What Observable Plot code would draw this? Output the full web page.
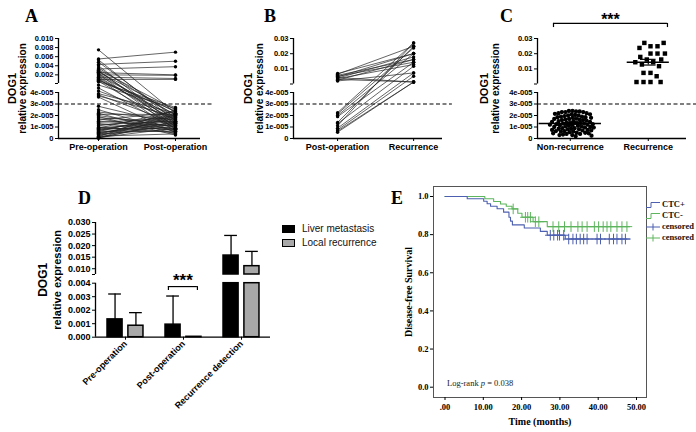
<!DOCTYPE html>
<html><head><meta charset="utf-8">
<script src="https://cdn.jsdelivr.net/npm/d3@7"></script>
<script src="https://cdn.jsdelivr.net/npm/@observablehq/plot@0.6"></script>
<style>
body{margin:0;background:#fff;}
#fig{position:relative;width:696px;height:432px;overflow:hidden;background:#fff;}
.lab{position:absolute;font-family:"Liberation Serif","Times New Roman",serif;font-weight:bold;font-size:18px;line-height:1;}
.leg{position:absolute;font-family:"Liberation Sans",Arial,sans-serif;font-size:10px;line-height:14px;color:#111;}
.leg .sw{display:inline-block;width:11px;height:6px;border:1.5px solid #000;vertical-align:middle;margin-right:7px;}
.legE{position:absolute;font-family:"Liberation Serif","Times New Roman",serif;font-weight:bold;font-size:8.5px;line-height:10px;color:#111;}
.legE svg{vertical-align:middle;margin-right:2px;}
.lr{position:absolute;font-family:"Liberation Serif","Times New Roman",serif;font-size:8.5px;line-height:10px;color:#222;}
</style></head><body><div id="fig"></div>
<script>
// ---------------- DATA ----------------
// Panel A: paired DOG1 expression, pre- vs post-operation
const catsA = ["Pre-operation", "Post-operation"];
const preA = [0.0075,0.0055,0.0053,0.0048,0.0043,0.0040,0.0035,0.0033,0.0031,0.0030,0.0028,0.0026,0.0025,0.0023,0.0022,0.0020,0.0018,0.0016,0.0015,0.0013,0.0012,0.0010,0.0009,0.0008,0.0006,0.0005,
  0.00009,0.00007,0.00005,0.000039,0.000038,0.000037,0.000036,
  0.000028,0.000025,0.000023,0.000022,0.000021,0.000020,0.000019,0.000018,0.000017,0.000016,0.000015,0.000014,0.000013,0.000012,0.000011,0.000010,0.0000095,0.000009,0.0000085,0.000008,0.0000075,0.000007,0.0000065,0.000006,0.0000055,0.000005,0.0000045,0.000004,0.0000035,0.000003,0.0000025,0.000002,0.0000015,0.000001,0.0000008,0.0000005,0.0000003];
const postA = [0.000022,0.0070,0.000015,0.000018,0.0050,0.000012,0.000020,0.0038,0.000025,0.000010,0.000014,0.000023,0.0020,0.000017,0.000008,0.0019,0.000021,0.000013,0.0012,0.000016,0.000006,0.0010,0.000019,0.000024,0.000011,0.000027,
  0.000026,0.000009,0.000017,0.000022,0.000013,0.000019,0.000005,
  0.000012,0.000006,0.000016,0.000004,0.000021,0.000010,0.000003,0.000014,0.000008,0.000023,0.000011,0.000018,0.000007,0.000015,0.000020,0.000005,0.000013,0.000024,0.000009,0.000017,0.000012,0.000019,0.000006,0.000022,0.000010,0.000014,0.000016,0.000008,0.000021,0.000011,0.000018,0.000004,0.000025,0.000013,0.000009,0.000020,0.000015];
const ticksLow = [0, 1e-5, 2e-5, 3e-5, 4e-5];
const ticksHighA = [0.002, 0.004, 0.006, 0.008, 0.010];
const cutoff = 3e-5;

// Panel B: post-operation vs recurrence
const catsB = ["Post-operation", "Recurrence"];
const postB = [0.0070,0.0065,0.0058,0.0052,0.0047,0.0043,0.0040,0.0036,0.0031,0.0026,0.0021,
  0.0000225,0.0000215,0.0000200,0.0000190,0.0000140,0.0000130,0.0000110,0.0000090,0.0000075,0.0000065,0.0000055];
const recB = [0.0201,0.0249,0.0162,0.0144,0.0201,0.0014,0.0179,0.0129,0.0014,0.0162,0.0074,
  0.0271,0.0238,0.0201,0.0144,0.0249,0.0118,0.0271,0.0074,0.0052,0.0014,0.0014];
const ticksHighBC = [0.01, 0.02, 0.03];

// Panel C: non-recurrence vs recurrence
const catsC = ["Non-recurrence", "Recurrence"];
const nonRecurrence = [2.4,2.4,2.35,2.35,2.3,2.3,2.3,2.2,2.2,2.15,2.1,2.1,2.05,2.0,2.0,1.95,1.9,1.9,1.85,1.85,
  1.8,1.8,1.75,1.7,1.7,1.65,1.65,1.6,1.6,1.55,1.5,1.5,1.45,1.45,1.4,1.4,1.35,1.35,1.3,1.3,1.25,1.25,1.2,1.2,
  1.15,1.15,1.1,1.1,1.05,1.05,1.0,1.0,0.95,0.95,0.9,0.9,0.85,0.85,0.8,0.8,0.75,0.75,0.7,0.7,0.65,0.65,0.6,0.6,
  0.55,0.5,0.5,0.45,0.45,0.4,0.4,0.35,0.3,0.3,0.25,0.2].map(v => v * 1e-5);
const recurrence = recB;

// Panel D: grouped bars
const catsD = ["Pre-operation", "Post-operation", "Recurrence detection"];
const seriesD = ["Liver metastasis", "Local recurrence"];
const liverMean = [0.00132, 0.00093, 0.0157];
const liverErr  = [0.00188, 0.00212, 0.0087];
const localMean = [0.00085, 0.00003, 0.0111];
const localErr  = [0.00097, 0, 0.0064];
const ticksLowD = [0, 0.001, 0.002, 0.003, 0.004];
const ticksHighD = [0.010, 0.015, 0.020, 0.025, 0.030];

// Panel E: Kaplan-Meier
const tPos = [0, 5.8, 10.1, 11.0, 11.9, 13.6, 15.3, 16.7, 17.1, 17.6, 20.7, 24.9, 26.7, 31.4, 48.2];
const sPos = [1, 0.988, 0.975, 0.962, 0.949, 0.936, 0.918, 0.891, 0.871, 0.851, 0.835, 0.817, 0.797, 0.777, 0.777];
const tNeg = [0, 10.4, 12.7, 14.5, 16.0, 17.5, 19.0, 20.1, 23.0, 26.7, 48.2];
const sNeg = [1, 0.988, 0.974, 0.961, 0.949, 0.935, 0.912, 0.891, 0.868, 0.842, 0.842];
const censPos = [27.5, 28.4, 29.4, 29.9, 31.0, 32.3, 33.4, 34.3, 35.3, 36.2, 37.1, 39.7, 40.6, 42.9, 44.0, 44.9, 46.2, 47.1];
const censNeg = [17.8, 21.0, 21.6, 22.3, 23.6, 24.5, 28.2, 29.7, 31.2, 32.9, 34.7, 35.8, 37.1, 39.0, 40.1, 41.3, 42.3, 43.3, 44.9, 46.2, 47.5];
const ticksE_y = [0, 0.2, 0.4, 0.6, 0.8, 1.0];
const ticksE_x = [0, 10, 20, 30, 40, 50];

// ---------------- RENDER ----------------
const W = 696, H = 432;
const SANS = "'Liberation Sans', Arial, sans-serif";
const SERIF = "'Liberation Serif', 'Times New Roman', serif";
const BLUE = "#4c5fb0", GREEN = "#5db55d";
const fig = document.getElementById("fig");

function panel({left, right, top, bottom, x, y, marks, font = SANS, fs = 8}) {
  const svg = Plot.plot({
    width: W, height: H,
    marginLeft: left, marginRight: W - right, marginTop: top, marginBottom: H - bottom,
    x, y, marks,
    style: `position:absolute;left:0;top:0;background:transparent;overflow:visible;font-family:${font};font-weight:bold;font-size:${fs}px;color:#000;text-anchor:middle;`
  });
  fig.appendChild(svg);
  return svg;
}
function html(cls, left, top, inner) {
  const d = document.createElement("div");
  d.className = cls; d.style.left = left + "px"; d.style.top = top + "px"; d.innerHTML = inner;
  fig.appendChild(d);
}
const fmtE = v => v === 0 ? "0" : `${Math.round(v * 1e5)}e-005`;
const f3 = d3.format(".3f"), f2 = d3.format(".2f");
const ax = {tickSize: 3, tickPadding: 2, label: null};
const TXT = {text: d => d, textAnchor: "middle", lineAnchor: "middle"};

function brokenYAxis(xl, xr, segs, lowTicks, lowFmt, highTicks, highFmt, gapTick, fsT) {
  return [
    Plot.ruleX(segs, {x: () => xl, y1: "y1", y2: "y2", stroke: "#000", strokeWidth: 1.3}),
    Plot.ruleY([0], {x1: () => xl, x2: () => xr, stroke: "#000", strokeWidth: 1.3}),
    Plot.axisY(lowTicks, {...ax, tickFormat: lowFmt, fontSize: fsT}),
    Plot.axisY(highTicks, {...ax, tickFormat: highFmt, fontSize: fsT}),
    Plot.axisY([gapTick], {...ax, tickFormat: () => ""})
  ];
}
function yTitles(dx1, dx2, fs1, fs2) {
  return [
    Plot.text(["DOG1"], {...TXT, frameAnchor: "left", dx: dx1, rotate: -90, fontSize: fs1}),
    Plot.text(["relative expression"], {...TXT, frameAnchor: "left", dx: dx2, rotate: -90, fontSize: fs2})
  ];
}

// ---- Panel A ----
const pairsA = preA.map((p, i) => ({pre: p, post: postA[i]}));
const yA = {type: "linear", domain: [0, 4e-5, 1e-4, 0.010], range: [138, 92, 83, 38]};
const xlA = -0.52, xrA = 1.325, dashA = 1.49;
panel({left: 58, right: 200, top: 38, bottom: 138, x: {domain: [xlA, xrA]}, y: yA, marks: [
  ...brokenYAxis(xlA, xrA, [{y1: 0, y2: 4e-5}, {y1: 1e-4, y2: 0.010}], ticksLow, fmtE, ticksHighA, f3, 1e-4, 7.5),
  Plot.axisX([0, 1], {...ax, tickFormat: i => catsA[i], fontSize: 9}),
  Plot.ruleY([cutoff], {x1: () => xlA, x2: () => dashA, stroke: "#000", strokeWidth: 1.2, strokeDasharray: "4,2.5"}),
  Plot.link(pairsA, {x1: () => 0, x2: () => 1, y1: "pre", y2: "post", stroke: "#222", strokeWidth: 0.7}),
  Plot.dot(pairsA, {x: () => 0, y: "pre", r: 1.7, fill: "#000"}),
  Plot.dot(pairsA, {x: () => 1, y: "post", r: 1.7, fill: "#000"}),
  ...yTitles(-46, -36, 11, 10)
]});

// ---- Panel B ----
const pairsB = postB.map((p, i) => ({post: p, rec: recB[i]}));
const yBC = {type: "linear", domain: [0, 4e-5, 1e-4, 0.03], range: [138, 92, 83.5, 38]};
const xlB = -0.58, xrB = 1.38, dashB = 1.51;
panel({left: 293, right: 442, top: 38, bottom: 138, x: {domain: [xlB, xrB]}, y: yBC, marks: [
  ...brokenYAxis(xlB, xrB, [{y1: 0, y2: 4e-5}, {y1: 1e-4, y2: 0.03}], ticksLow, fmtE, ticksHighBC, f2, 1e-4, 7.5),
  Plot.axisX([0, 1], {...ax, tickFormat: i => catsB[i], fontSize: 9}),
  Plot.ruleY([cutoff], {x1: () => xlB, x2: () => dashB, stroke: "#000", strokeWidth: 1.2, strokeDasharray: "4,2.5"}),
  Plot.link(pairsB, {x1: () => 0, x2: () => 1, y1: "post", y2: "rec", stroke: "#222", strokeWidth: 0.7}),
  Plot.dot(pairsB, {x: () => 0, y: "post", r: 1.7, fill: "#000"}),
  Plot.dot(pairsB, {x: () => 1, y: "rec", r: 1.7, fill: "#000"}),
  ...yTitles(-45, -34, 11, 10)
]});

// ---- Panel C ----
// scatter columns (dodged by the library), each in its own frame centred on its category
panel({left: 542, right: 602, top: 38, bottom: 138, x: {axis: null}, y: {...yBC, axis: null}, marks: [
  Plot.dot(nonRecurrence, Plot.dodgeX({anchor: "middle", padding: 0.6}, {y: d => d, r: 1.5, fill: "#000", stroke: "#000", strokeWidth: 1.3}))
]});
panel({left: 630, right: 670, top: 38, bottom: 138, x: {axis: null}, y: {...yBC, axis: null}, marks: [
  Plot.dot(recurrence, Plot.dodgeX({anchor: "middle", padding: 2}, {y: d => d, r: 2.5, symbol: "square", fill: "#000"}))
]});
const statsC = [nonRecurrence, recurrence].map((vals, i) => {
  const m = d3.mean(vals), se = d3.deviation(vals) / Math.sqrt(vals.length);
  return {i, mean: m, lo: m - se, hi: m + se, hw: i === 0 ? 0.4 : 0.27};
});
const xlC = -0.42, xrC = 1.49, dashC = 1.62;
const sigC = {x1: -0.215, x2: 1.246, y: 0.0399, yDrop: 0.0372, yText: 0.0425};
panel({left: 537, right: 686, top: 38, bottom: 138, x: {domain: [xlC, xrC]}, y: yBC, marks: [
  ...brokenYAxis(xlC, xrC, [{y1: 0, y2: 4e-5}, {y1: 1e-4, y2: 0.03}], ticksLow, fmtE, ticksHighBC, f2, 1e-4, 7.5),
  Plot.axisX([0, 1], {...ax, tickFormat: i => catsC[i], fontSize: 9}),
  Plot.ruleY([cutoff], {x1: () => xlC, x2: () => dashC, stroke: "#000", strokeWidth: 1.2, strokeDasharray: "4,2.5"}),
  Plot.ruleY(statsC, {y: "mean", x1: d => d.i - d.hw, x2: d => d.i + d.hw, stroke: "#000", strokeWidth: 1.4}),
  Plot.ruleX(statsC, {x: "i", y1: "lo", y2: "hi", stroke: "#000", strokeWidth: 1.2}),
  Plot.ruleY(statsC, {y: "lo", x1: d => d.i - 0.1, x2: d => d.i + 0.1, stroke: "#000", strokeWidth: 1.2}),
  Plot.ruleY(statsC, {y: "hi", x1: d => d.i - 0.1, x2: d => d.i + 0.1, stroke: "#000", strokeWidth: 1.2}),
  Plot.ruleY([sigC], {y: "y", x1: "x1", x2: "x2", stroke: "#000", strokeWidth: 1.2}),
  Plot.ruleX([sigC.x1, sigC.x2], {x: d => d, y1: () => sigC.yDrop, y2: () => sigC.y, stroke: "#000", strokeWidth: 1.2}),
  Plot.text(["***"], {...TXT, x: () => (sigC.x1 + sigC.x2) / 2, y: () => sigC.yText, fontSize: 16}),
  ...yTitles(-53, -42, 11, 10)
]});

// ---- Panel D ----
const yD = {type: "linear", domain: [0, 0.004, 0.0075, 0.030], range: [336.7, 282.7, 274, 222]};
const xlD = -0.517, xrD = 2.5;
const brkLo = 0.004, brkHi = 0.0075;
const offD = [[-0.31, -0.05], [0.05, 0.31]];
const fillD = ["#000", "#a8a8a8"];
const rowsD = [];
catsD.forEach((c, i) => {
  [[liverMean, liverErr], [localMean, localErr]].forEach(([M, E], s) => {
    rowsD.push({i, s, mean: M[i], err: E[i], x1: i + offD[s][0], x2: i + offD[s][1], xc: i + (offD[s][0] + offD[s][1]) / 2});
  });
});
const piecesD = [];
rowsD.forEach(r => {
  piecesD.push({...r, y1: 0, y2: Math.min(r.mean, brkLo)});
  if (r.mean > brkHi) piecesD.push({...r, y1: brkHi, y2: r.mean});
});
const errD = rowsD.filter(r => r.err > 0);
const sigD = {x1: 0.74, x2: 1.24, y: 0.00375, yDrop: 0.00346, yText: 0.0051};
panel({left: 95, right: 270, top: 222, bottom: 336.7, x: {domain: [xlD, xrD]}, y: yD, marks: [
  Plot.rect(piecesD, {x1: "x1", x2: "x2", y1: "y1", y2: "y2", fill: d => fillD[d.s], stroke: "#000", strokeWidth: 1.5}),
  Plot.ruleX(errD, {x: "xc", y1: "mean", y2: d => d.mean + d.err, stroke: "#000", strokeWidth: 1.3}),
  Plot.ruleY(errD, {y: d => d.mean + d.err, x1: d => d.xc - 0.11, x2: d => d.xc + 0.11, stroke: "#000", strokeWidth: 1.3}),
  ...brokenYAxis(xlD, xrD, [{y1: 0, y2: brkLo}, {y1: brkHi, y2: 0.030}], ticksLowD, f3, ticksHighD, f3, brkHi, 9),
  Plot.axisX([0, 1, 2], {...ax, tickFormat: i => catsD[i], tickRotate: -45, fontSize: 9}),
  Plot.ruleY([sigD], {y: "y", x1: "x1", x2: "x2", stroke: "#000", strokeWidth: 1.2}),
  Plot.ruleX([sigD.x1, sigD.x2], {x: d => d, y1: () => sigD.yDrop, y2: () => sigD.y, stroke: "#000", strokeWidth: 1.2}),
  Plot.text(["***"], {...TXT, x: () => (sigD.x1 + sigD.x2) / 2, y: () => sigD.yText, fontSize: 17}),
  ...yTitles(-52, -38, 12, 11)
]});

// ---- Panel E ----
const kmPos = tPos.map((t, i) => ({t, s: sPos[i]}));
const kmNeg = tNeg.map((t, i) => ({t, s: sNeg[i]}));
const survAt = (ts, ss, t) => ss[Math.max(0, d3.bisectRight(ts, t) - 1)];
const cPos = censPos.map(t => ({t, s: survAt(tPos, sPos, t)}));
const cNeg = censNeg.map(t => ({t, s: survAt(tNeg, sNeg, t)}));
const fE = v => v === 0 ? ".00" : v.toFixed(2);
panel({left: 433, right: 646, top: 186, bottom: 397, font: SERIF, fs: 8.5,
  x: {domain: [0, 50], range: [444.5, 636]}, y: {domain: [0, 1], range: [386.7, 196]}, marks: [
  Plot.frame({stroke: "#555", strokeWidth: 1}),
  Plot.axisY(ticksE_y, {...ax, tickFormat: d3.format(".1f"), fontSize: 8.5}),
  Plot.axisX(ticksE_x, {...ax, tickPadding: 3, tickFormat: fE, fontSize: 8.5}),
  Plot.line(kmNeg, {x: "t", y: "s", curve: "step-after", stroke: GREEN, strokeWidth: 1.1}),
  Plot.line(kmPos, {x: "t", y: "s", curve: "step-after", stroke: BLUE, strokeWidth: 1.1}),
  Plot.dot(cNeg, {x: "t", y: "s", symbol: "plus", r: 3.5, stroke: GREEN, strokeWidth: 1}),
  Plot.dot(cPos, {x: "t", y: "s", symbol: "plus", r: 3.5, stroke: BLUE, strokeWidth: 1}),
  Plot.text(["Disease-free Survival"], {...TXT, frameAnchor: "left", dx: -25, rotate: -90, fontSize: 10}),
  Plot.text(["Time (months)"], {...TXT, frameAnchor: "bottom", dy: 24.5, fontSize: 10})
]});

// ---- HTML annotations: panel letters, legends ----
html("lab", 25, 6.8, "A");
html("lab", 264, 6.8, "B");
html("lab", 500, 6.8, "C");
html("lab", 78, 188.8, "D");
html("lab", 391, 188.8, "E");
html("leg", 282, 222, `<div><span class="sw" style="background:${fillD[0]}"></span>${seriesD[0]}</div><div><span class="sw" style="background:${fillD[1]}"></span>${seriesD[1]}</div>`);
const stepIcon = c => `<svg width="14" height="10"><path d="M0,7.5H5V2.5H14" fill="none" stroke="${c}" stroke-width="1"/></svg>`;
const plusIcon = c => `<svg width="14" height="10"><path d="M0,5H14M7,1.5V8.5" fill="none" stroke="${c}" stroke-width="1"/></svg>`;
html("legE", 646, 199, `<div>${stepIcon(BLUE)}CTC+</div><div>${stepIcon(GREEN)}CTC-</div><div>${plusIcon(BLUE)}censored</div><div>${plusIcon(GREEN)}censored</div>`);
html("lr", 447, 378, "Log-rank <i>p</i> = 0.038");
</script></body></html>
